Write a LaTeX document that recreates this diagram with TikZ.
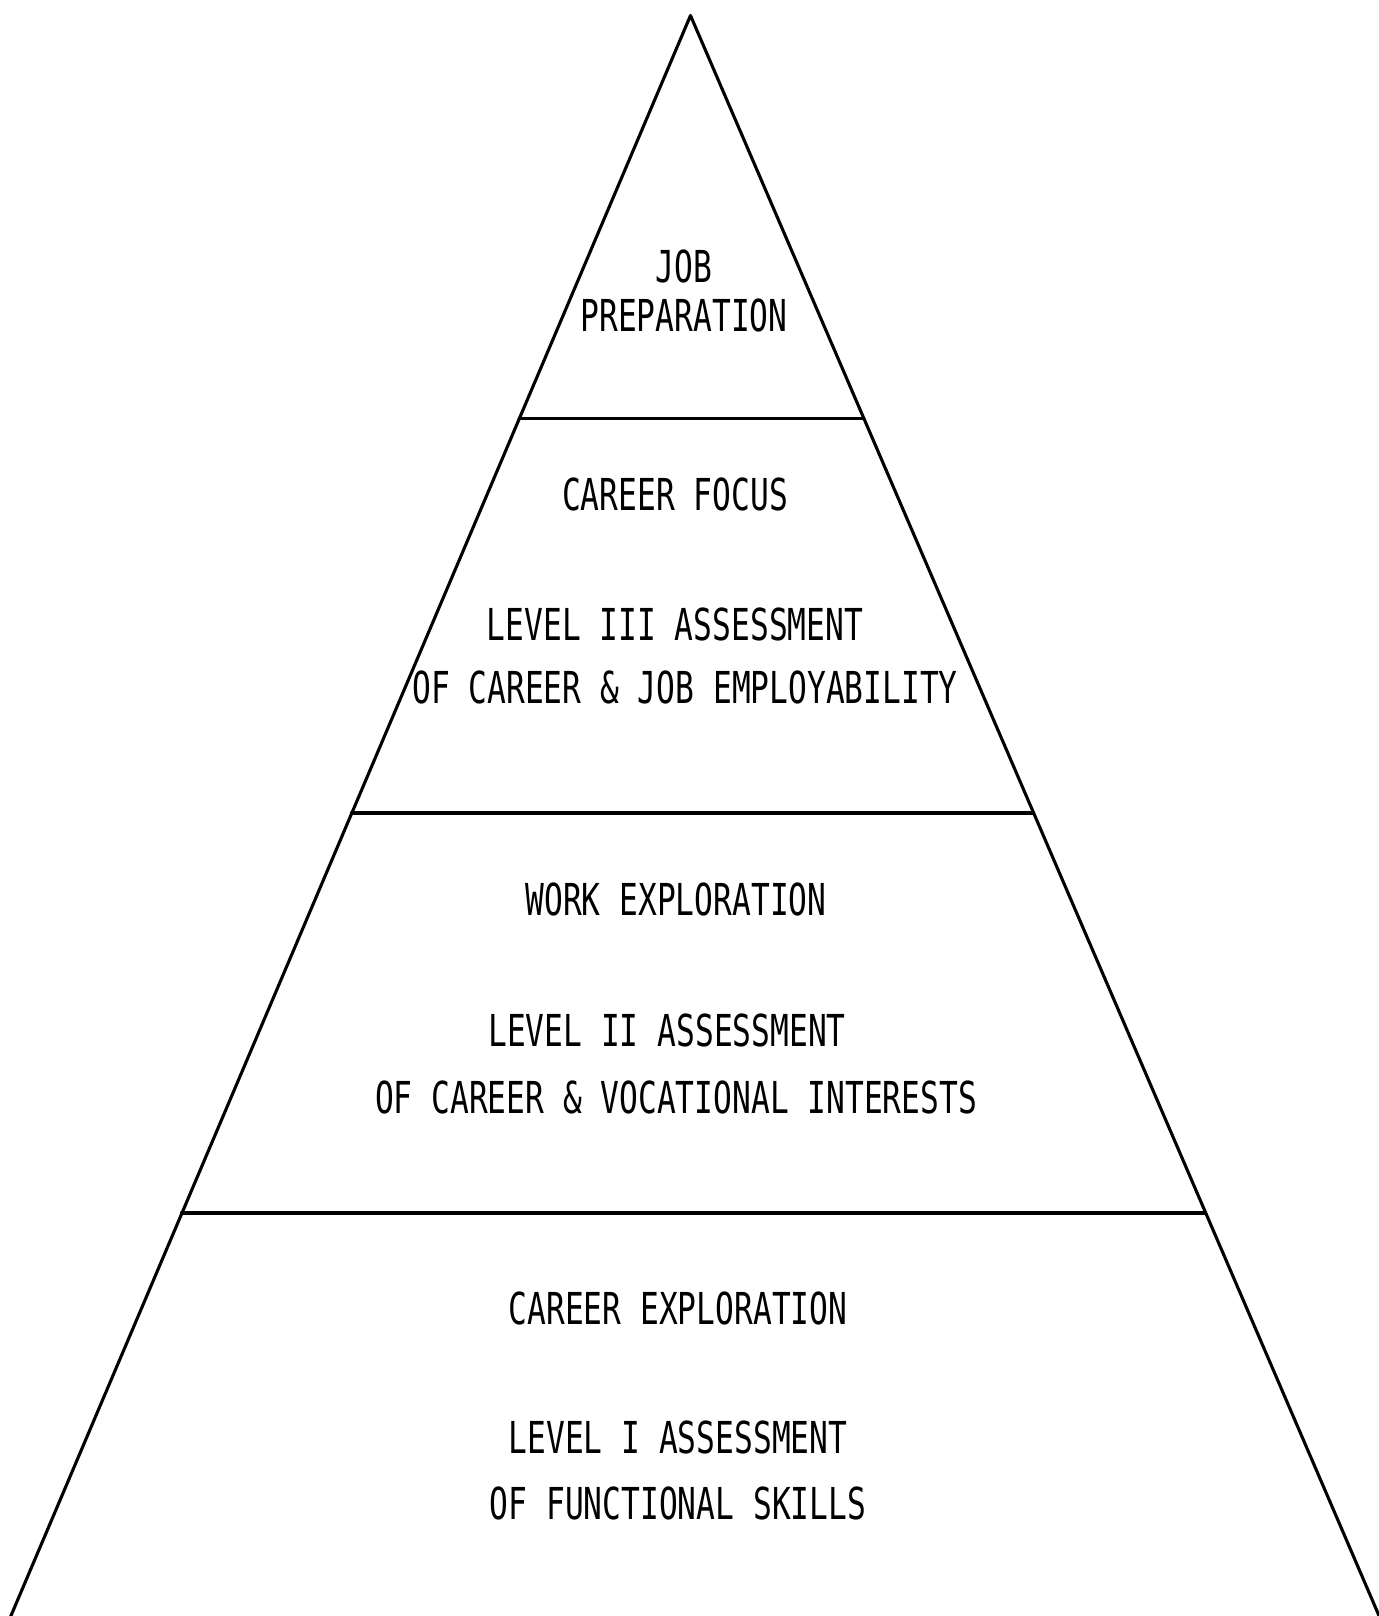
\documentclass[tikz,border=0pt]{standalone}
\usepackage{fontspec}
\newfontfamily\typewriter[FakeStretch=0.71]{DejaVu Sans Mono}
\begin{document}
\begin{tikzpicture}[x=1pt,y=-1pt,
  edge/.style={line width=3.1pt,line cap=round,line join=round},
  label/.style={anchor=base,inner sep=0pt,font=\typewriter\fontsize{44pt}{50pt}\selectfont}]
\useasboundingbox (0,0) rectangle (1378,1616);
% pyramid outline (open at the bottom)
\coordinate (apex) at (690.5,15.5);
\coordinate (bl) at (10,1618);
\coordinate (br) at (1380,1618);
\draw[edge] (bl) -- (apex) -- (br);
% tier boundaries
\coordinate (d1l) at (519,418.5);   \coordinate (d1r) at (864,418.5);
\coordinate (d2l) at (351.5,813);   \coordinate (d2r) at (1033.5,813);
\coordinate (d3l) at (181.5,1213);  \coordinate (d3r) at (1205.5,1213);
\draw[edge] (d1l) -- (d1r);
\draw[edge] (d2l) -- (d2r);
\draw[edge] (d3l) -- (d3r);
% tier labels
\node[label] (t1a) at (684,282) {JOB};
\node[label] (t1b) at (684,331) {PREPARATION};
\node[label] (t2a) at (675,510) {CAREER FOCUS};
\node[label] (t2b) at (675,640) {LEVEL III ASSESSMENT};
\node[label] (t2c) at (685,703) {OF CAREER \& JOB EMPLOYABILITY};
\node[label] (t3a) at (676,915) {WORK EXPLORATION};
\node[label] (t3b) at (667,1046) {LEVEL II ASSESSMENT};
\node[label] (t3c) at (676,1113) {OF CAREER \& VOCATIONAL INTERESTS};
\node[label] (t4a) at (678,1324) {CAREER EXPLORATION};
\node[label] (t4b) at (678,1453) {LEVEL I ASSESSMENT};
\node[label] (t4c) at (678,1519) {OF FUNCTIONAL SKILLS};
\end{tikzpicture}
\end{document}
